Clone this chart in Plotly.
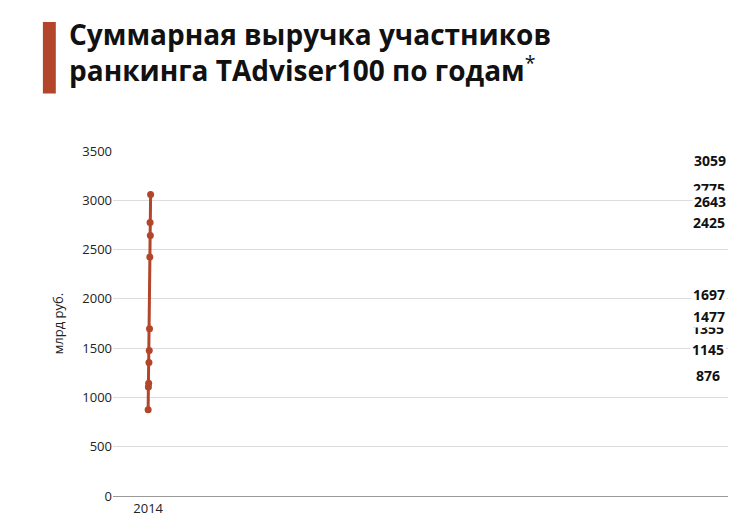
import plotly.graph_objects as go

years = ["2014","2015","2016","2017","2018","2019","2020","2021","2022","2023"]
values = [876,1107,1145,1355,1477,1697,2425,2775,2643,3059]
color = "#b3452a"

fig = go.Figure()
fig.add_trace(go.Scatter(x=years, y=values, mode="lines+markers",
    line=dict(color=color, width=3), marker=dict(color=color, size=7), hoverinfo="skip"))
for x, v in zip(years, values):
    fig.add_annotation(x=x, y=v, text=f"<b>{v}</b>", showarrow=False, yshift=34,
        bgcolor="white", font=dict(size=14, color="#111", family="Open Sans"))
fig.add_shape(type="rect", xref="paper", yref="paper", x0=-0.114, x1=-0.093, y0=1.167, y1=1.374,
    fillcolor=color, line_width=0)
fig.add_annotation(xref="paper", yref="paper", x=-0.075, y=1.40, xanchor="left", yanchor="top",
    align="left", showarrow=False,
    text="<b>Суммарная выручка участников<br>ранкинга TAdviser100 по годам</b><sup>*</sup>",
    font=dict(size=28, color="#111", family="Open Sans"))
fig.update_layout(width=737, height=521, paper_bgcolor="white", plot_bgcolor="white",
    margin=dict(l=105, r=17, t=143, b=30), showlegend=False,
    font=dict(family="Open Sans", color="#222", size=13))
fig.update_xaxes(type="category", showgrid=False, showline=True, linecolor="#999", ticks="",
    tickfont=dict(size=13))
fig.update_yaxes(range=[0, 3500], dtick=500, gridcolor="#ddd", zeroline=False,
    title=dict(text="млрд руб.", font=dict(size=13)), tickfont=dict(size=13))
fig.write_html("out.html")
